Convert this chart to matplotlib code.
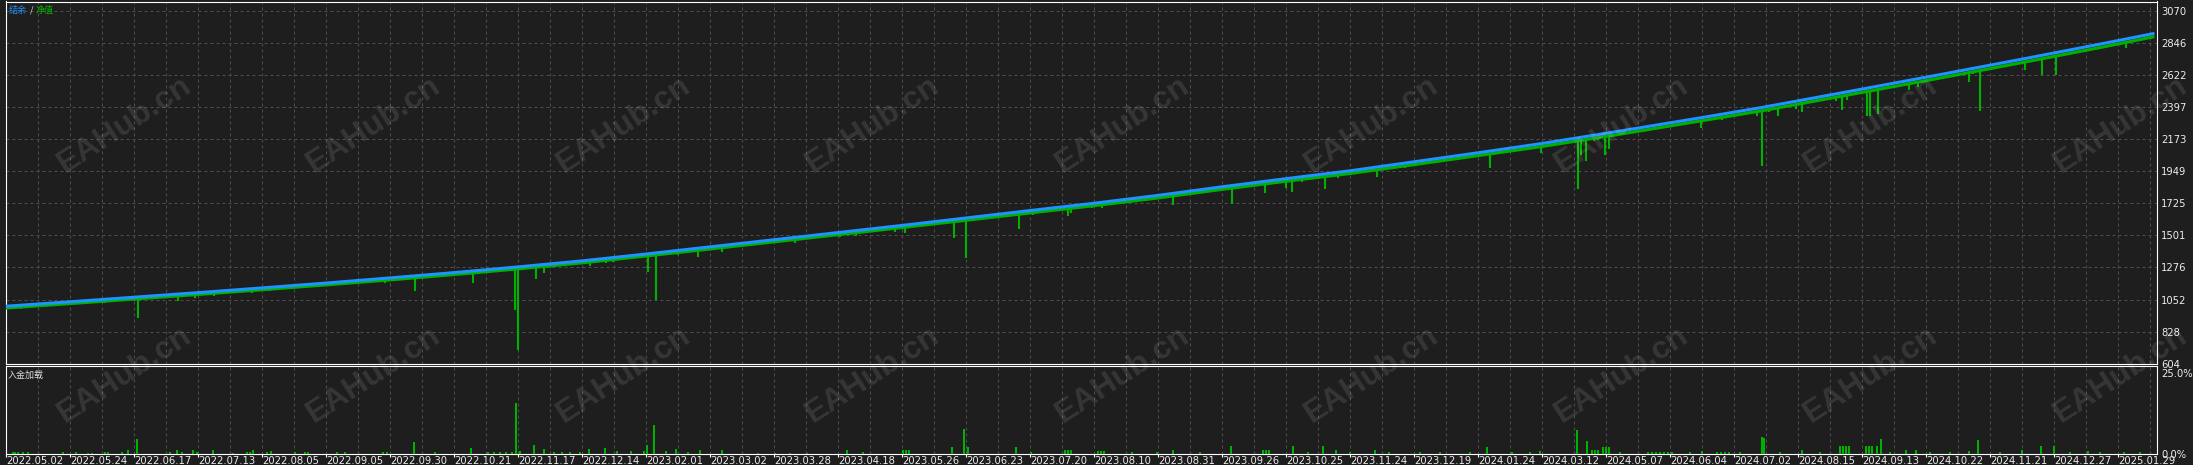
import os

import matplotlib
matplotlib.use("Agg")
import matplotlib.pyplot as plt
import numpy as np
from matplotlib import font_manager
from matplotlib.font_manager import FontProperties

W, H = 2193, 465
BG = "#1e1e1e"
GRID = "#4f4f4f"
BLUE = "#1f93ff"
GREEN = "#00b200"
TXT = "#ececec"

# x axis is the chart's bar index: one date label every 64 bars
date_labels = [
    "2022.05.02", "2022.05.24", "2022.06.17", "2022.07.13", "2022.08.05",
    "2022.09.05", "2022.09.30", "2022.10.21", "2022.11.17", "2022.12.14",
    "2023.02.01", "2023.03.02", "2023.03.28", "2023.04.18", "2023.05.26",
    "2023.06.23", "2023.07.20", "2023.08.10", "2023.08.31", "2023.09.26",
    "2023.10.25", "2023.11.24", "2023.12.19", "2024.01.24", "2024.03.12",
    "2024.05.07", "2024.06.04", "2024.07.02", "2024.08.15", "2024.09.13",
    "2024.10.22", "2024.11.21", "2024.12.27", "2025.01.29",
]
value_ticks = [604, 828, 1052, 1276, 1501, 1725, 1949, 2173, 2397, 2622, 2846, 3070]

# balance (blue) and equity (green)
bal_x = [0, 64, 128, 192, 256, 320, 384, 448, 512, 576, 640, 704, 768, 832, 896,
         960, 1024, 1088, 1152, 1216, 1280, 1344, 1408, 1472, 1536, 1614, 1694,
         1756, 1834, 1932, 2014, 2100, 2147]
balance = [1005, 1036, 1068, 1100, 1133, 1167, 1203, 1240, 1280, 1322, 1370, 1420,
           1470, 1520, 1570, 1622, 1674, 1725, 1780, 1840, 1897, 1952, 2015, 2078,
           2143, 2230, 2322, 2395, 2495, 2622, 2730, 2846, 2911]
equity = [992, 1023, 1055, 1087, 1120, 1154, 1189, 1226, 1266, 1308, 1356, 1405,
          1455, 1505, 1555, 1606, 1657, 1708, 1762, 1822, 1879, 1933, 1995, 2058,
          2122, 2208, 2300, 2372, 2472, 2598, 2706, 2822, 2888]

# equity drawdown spikes: bar index and lowest equity
spike_x = [
    15, 99, 123, 132, 172, 189, 208, 246, 264, 330,
    340, 379, 383, 409, 467, 509, 512, 530, 538, 584, 600,
    607, 623, 642, 650, 663, 672, 692, 716, 745, 789,
    834, 850, 889, 899, 948, 960, 1013, 1027, 1062, 1065,
    1086, 1096, 1167, 1226, 1259, 1280, 1286, 1296, 1319, 1332,
    1371, 1399, 1484, 1495, 1535, 1572, 1575, 1580, 1588, 1599, 1603,
    1695, 1716, 1751, 1756, 1763, 1772, 1790, 1796, 1830, 1836,
    1841, 1861, 1864, 1872, 1886, 1903, 1912, 1947, 1963, 1967,
    1974, 2019, 2036, 2050, 2120, 2144,
]
spike_low = [
    985, 1029, 1050, 926, 1043, 1060, 1078, 1095, 1109, 1151,
    1158, 1169, 1180, 1113, 1165, 978, 702, 1197, 1239, 1288, 1305,
    1316, 1332, 1246, 1052, 1367, 1362, 1351, 1386, 1426, 1449,
    1491, 1495, 1527, 1519, 1484, 1344, 1547, 1643, 1638, 1655,
    1690, 1690, 1715, 1718, 1799, 1830, 1806, 1872, 1823, 1900,
    1912, 1975, 1975, 2075, 2080, 1823, 2060, 2023, 2157, 2060, 2103,
    2250, 2304, 2332, 1986, 2363, 2332, 2384, 2362, 2442, 2379,
    2449, 2332, 2335, 2349, 2547, 2514, 2538, 2608, 2575, 2631,
    2367, 2654, 2619, 2619, 2808, 2881,
]

# deposit load (%), lower panel
load_x = [
    7, 9, 12, 17, 22, 57, 70, 82, 86, 99, 102, 116, 122, 131, 164, 171, 176, 187,
    191, 207, 227, 241, 244, 247, 261, 265, 289, 299, 302, 331, 339, 377, 381,
    408, 429, 465, 482, 488, 494, 500, 506, 510, 514, 528, 538, 548, 556, 564, 574,
    583, 599, 611, 625, 638, 641, 648, 660, 670, 682, 694, 716, 752, 769, 784, 801,
    841, 857, 897, 900, 903, 946, 958, 962, 1010, 1025, 1059, 1062, 1065,
    1092, 1095, 1098, 1126, 1151, 1167, 1225, 1257, 1260, 1263, 1287, 1302, 1317,
    1330, 1369, 1383, 1464, 1481, 1506, 1534, 1571, 1581, 1586, 1589, 1592, 1597,
    1600, 1603, 1642, 1646, 1650, 1654, 1658, 1662, 1666, 1696, 1711, 1715, 1719,
    1723, 1756, 1758, 1796, 1834, 1837, 1840, 1843, 1860, 1863, 1866, 1871, 1875,
    1900, 1910, 1963, 1972, 2016, 2035, 2048, 2082, 2118,
    1194, 1344, 1414, 1434, 1524, 1614, 1684, 1734, 1774, 1814, 1884, 1924, 1944,
    1994, 2064, 2094, 2134,
]
load_pct = [
    0.6, 0.6, 0.6, 0.6, 0.5, 0.5, 0.5, 0.3, 0.3, 0.5, 0.5, 0.5, 1.2, 4.5, 0.5, 1.2, 0.5, 1.2,
    0.5, 1.2, 0.3, 0.6, 0.6, 1.2, 0.5, 0.9, 0.5, 0.5, 0.5, 0.5, 0.5, 0.5, 0.5,
    3.6, 0.5, 1.8, 0.5, 0.5, 0.5, 0.5, 0.5, 15.7, 0.7, 2.7, 1.3, 0.5, 0.5, 0.5, 0.5,
    1.3, 1.6, 0.7, 0.7, 0.7, 2.7, 8.9, 0.7, 1.3, 0.5, 1.1, 1.1, 0.3, 0.3, 0.3, 0.3,
    1.1, 0.5, 1.1, 1.1, 1.1, 2.0, 7.7, 2.0, 2.0, 0.5, 1.1, 1.1, 1.1,
    0.7, 0.7, 0.7, 0.5, 0.5, 1.1, 2.4, 1.1, 1.1, 1.1, 2.4, 0.5, 2.4,
    1.1, 1.1, 0.5, 0.5, 2.0, 0.5, 0.7, 7.3, 3.9, 1.1, 1.1, 1.1, 2.1,
    2.1, 2.1, 0.5, 0.5, 0.5, 0.5, 0.5, 0.5, 0.5, 0.9, 0.5, 0.5, 0.5,
    0.5, 5.1, 4.9, 1.1, 2.3, 2.3, 2.3, 2.3, 2.3, 2.3, 2.3, 2.3, 4.5,
    1.1, 1.1, 0.9, 4.2, 1.1, 2.4, 2.4, 0.7, 0.6,
    0.4, 0.4, 0.4, 0.4, 0.4, 0.4, 0.4, 0.4, 0.4, 0.4, 0.4, 0.4, 0.4,
    0.4, 0.4, 0.4, 0.4,
]

# watermark centres (figure pixels)
wm_x = [125, 374, 624, 873, 1123, 1372, 1622, 1871, 2121]
wm_rows = [125, 375]

CJK = ["Noto Sans CJK SC", "DejaVu Sans"]


def label_font():
    # narrow face for the axis numbers, like the terminal's own font
    files = {os.path.basename(f.fname).lower(): f.fname
             for f in font_manager.fontManager.ttflist}
    for want in ("liberationsansnarrow-regular.ttf", "dejavusanscondensed.ttf"):
        if want in files:
            return FontProperties(fname=files[want], size=8)
    return FontProperties(family="Roboto", size=6.6)


def style_axes(a):
    a.set_facecolor(BG)
    for s in a.spines.values():
        s.set_color("white")
        s.set_linewidth(0.8)


LFP = label_font()

fig = plt.figure(figsize=(W / 100, H / 100), dpi=100, facecolor=BG)
ax = fig.add_axes([5.5 / W, 101 / H, 2151.5 / W, 362.5 / H])
ax2 = fig.add_axes([5.5 / W, 11.5 / H, 2151.5 / W, 87.5 / H])
style_axes(ax)
style_axes(ax2)

grid_x = np.arange(0, 2151, 32)
grid_kw = dict(color=GRID, linestyle=(0, (3, 3)), linewidth=0.72)

# --- upper panel: balance / equity ---
ax.set_xlim(-0.5, 2151)
ax.set_ylim(601, 3136)
ax.set_xticks(grid_x)
ax.tick_params(axis="x", length=0, labelbottom=False)
ax.yaxis.tick_right()
ax.set_yticks(value_ticks)
ax.set_yticklabels([str(v) for v in value_ticks])
ax.tick_params(axis="y", length=0, pad=3, labelcolor=TXT)
for lab in ax.get_yticklabels():
    lab.set_fontproperties(LFP)
ax.grid(True, **grid_kw)
ax.set_axisbelow(True)

spike_top = np.interp(spike_x, bal_x, equity)
ax.plot(bal_x, equity, color=GREEN, lw=2.2, zorder=3)
ax.vlines(spike_x, spike_low, spike_top, color=GREEN, lw=1.5, zorder=3)
ax.plot(bal_x, balance, color=BLUE, lw=2.2, zorder=4)

# --- lower panel: deposit load ---
ax2.set_xlim(-0.5, 2151)
ax2.set_ylim(0, 27.2)
ax2.bar(load_x, load_pct, width=2.5, color=GREEN, zorder=3)
ax2.set_xticks(np.arange(0, 2113, 64))
ax2.set_xticklabels(date_labels)
ax2.set_xticks(grid_x, minor=True)
ax2.tick_params(axis="x", which="major", length=1.8, width=0.8, color="white",
                pad=0, labelcolor=TXT)
ax2.tick_params(axis="x", which="minor", length=0)
for lab in ax2.get_xticklabels():
    lab.set_ha("left")
    lab.set_fontproperties(LFP)
ax2.yaxis.tick_right()
ax2.set_yticks([0, 25])
ax2.set_yticklabels(["0.0%", "25.0%"])
ax2.tick_params(axis="y", length=0, pad=3, labelcolor=TXT)
for lab in ax2.get_yticklabels():
    lab.set_fontproperties(LFP)
ax2.grid(True, axis="x", which="both", **grid_kw)
ax2.set_axisbelow(True)

# legend-like captions
fig.text(9 / W, 1 - 10.5 / H, "结余", color=BLUE, fontsize=6.5, family=CJK, va="center")
fig.text(30 / W, 1 - 10.5 / H, "/", color="#d8d8d8", fontsize=6.5, family=CJK, va="center")
fig.text(36 / W, 1 - 10.5 / H, "净值", color=GREEN, fontsize=6.5, family=CJK, va="center")
fig.text(8 / W, 1 - 375 / H, "入金加载", color="#dcdcdc", fontsize=6.5, family=CJK, va="center")

# watermark
for wy in wm_rows:
    for wx in wm_x:
        fig.text(wx / W, 1 - wy / H, "EAHub.cn", rotation=33, rotation_mode="anchor",
                 ha="center", va="center", fontsize=23, fontweight="bold",
                 family="Liberation Sans", color="white", alpha=0.11)

fig.savefig("out.png", dpi=100, facecolor=BG)
